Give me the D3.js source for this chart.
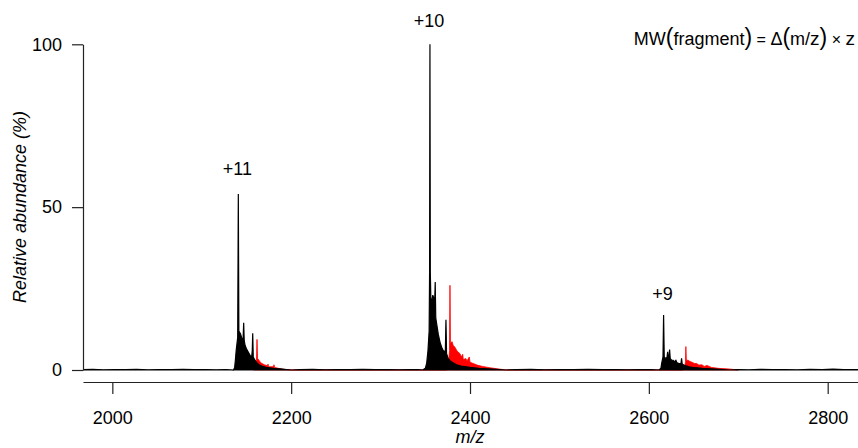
<!DOCTYPE html>
<html>
<head>
<meta charset="utf-8">
<script src="https://cdn.jsdelivr.net/npm/d3@7"></script>
<style>
  body { margin: 0; background: #fff; }
  text { font-family: "Liberation Sans", Arial, sans-serif; }
</style>
</head>
<body>
<div id="visualisation"></div>
<script>
// spectra as [m/z, relative abundance %]
var blackNoise = [[1967, 0.1], [1978, 0.2], [1990, 0.05], [2003, 0.15], [2015, 0.1], [2027, 0.2], [2040, 0.05], [2052, 0.15],
                  [2066, 0.1], [2079, 0.2], [2091, 0.1], [2104, 0.15], [2116, 0.05], [2127, 0.15],
                  [2210, 0.1], [2224, 0.2], [2238, 0.05], [2252, 0.15], [2266, 0.1], [2280, 0.2], [2294, 0.1], [2308, 0.15],
                  [2320, 0.05], [2333, 0.15], [2342, 0.1],
                  [2452, 0.1], [2468, 0.2], [2484, 0.05], [2500, 0.15], [2516, 0.1], [2532, 0.2], [2548, 0.1], [2562, 0.15],
                  [2576, 0.05], [2590, 0.15], [2602, 0.1],
                  [2700, 0.15], [2712, 0.05], [2724, 0.2], [2738, 0.1], [2752, 0.15], [2766, 0.05], [2780, 0.2], [2794, 0.1],
                  [2806, 0.25], [2818, 0.1], [2834, 0.15]];

var black11 = [[2135.5, 0], [2136.8, 0.8], [2137.6, 3], [2138.5, 6], [2140.2, 10], [2140.9, 54], [2141.5, 12],
               [2142.5, 11.5], [2143.5, 11], [2144.5, 10], [2145.6, 9], [2146.3, 10], [2146.9, 14.5], [2147.5, 9],
               [2148.5, 7.5], [2150, 6.5], [2152, 5.5], [2154, 4.5], [2155.8, 4], [2156.5, 6], [2157, 11.3],
               [2157.6, 4], [2159.5, 3], [2161.8, 2.2], [2164, 1.6], [2167, 1.2], [2172, 0.8], [2180, 0.5],
               [2190, 0.3], [2200, 0]];

var black10 = [[2347, 0], [2350, 0.5], [2351.5, 2], [2353, 6], [2354.3, 12], [2354.8, 30], [2355.2, 100],
               [2355.6, 30], [2356.2, 22], [2357.2, 21], [2358.4, 23], [2359.6, 22], [2360.4, 20], [2361.1, 27],
               [2361.7, 16], [2362.8, 14], [2364.5, 11], [2366.5, 8.5], [2368.3, 7], [2370, 6], [2372.4, 5.5],
               [2373.1, 15.4], [2373.8, 5], [2375.7, 3.5], [2378, 2.8], [2381, 2.2], [2385, 1.6], [2390, 1.2],
               [2400, 0.8], [2410, 0.5], [2425, 0.3], [2440, 0]];

var black9 = [[2611, 0], [2613.5, 0.5], [2614.3, 2], [2615.8, 4], [2616.5, 16.9], [2617.2, 4], [2618.5, 3.6],
              [2620.3, 3.8], [2621, 5.6], [2621.7, 3.5], [2622.5, 4], [2623.2, 6.3], [2623.9, 3.5], [2625.5, 3],
              [2627.2, 3], [2628.5, 2.5], [2630.2, 3], [2631.5, 2.2], [2634, 2], [2635.9, 2], [2636.6, 3.6],
              [2637.3, 1.8], [2640, 1.4], [2645, 1], [2652, 0.7], [2660, 0.5], [2675, 0.3], [2690, 0]];

var red11 = [[2158, 0], [2160, 1], [2161.2, 3], [2161.8, 9.4], [2162.4, 3.5], [2164, 3], [2166, 2.2], [2170, 1.6],
             [2173.5, 1.3], [2174.1, 1.8], [2174.7, 1], [2180.2, 1], [2180.8, 1.6], [2181.4, 0.8], [2186, 0.5],
             [2192, 0.2], [2200, 0]];

var red10 = [[2374, 0], [2376, 2], [2377.1, 6], [2377.6, 26], [2378.1, 8], [2379, 8.5], [2380, 8.7], [2381.2, 7.5],
             [2383.2, 7], [2385.5, 5.8], [2388.8, 5], [2390.5, 4], [2391.8, 4.8], [2392.5, 3.2], [2395.5, 3.5],
             [2396.5, 2.7], [2399.2, 4], [2400, 2.4], [2403.6, 2], [2408, 1.5], [2414, 1.1], [2422, 0.7],
             [2430, 0.4], [2440, 0]];

var red9 = [[2638, 0], [2640, 1], [2641, 2.5], [2641.4, 7.2], [2641.9, 3], [2644, 3], [2646, 2.6], [2648, 2.4],
            [2651, 2], [2653.4, 2], [2656, 1.5], [2659.3, 1.6], [2662, 1.1], [2665, 1.4], [2670, 0.8], [2678, 0.5],
            [2690, 0.3], [2700, 0]];

var xTicks = [2000, 2200, 2400, 2600, 2800];
var yTicks = [0, 50, 100];

// charge state labels [label, m/z of the apex]
var chargeLabels = [["+11", 2140.9], ["+10", 2355.2], ["+9", 2616.5]];

var svg = d3.select("#visualisation")
            .append("svg")
            .attr("width", 858)
            .attr("height", 448);

var x = d3.scaleLinear().domain([1967.2, 2833.9]).range([83, 858]);
var y = d3.scaleLinear().domain([0, 100]).range([370, 44.3]);

svg.append("clipPath").attr("id", "plotClip")
   .append("rect").attr("x", 83).attr("y", 0).attr("width", 775).attr("height", 372);

function bySort(a, b) { return a[0] - b[0]; }

var blackData = blackNoise.concat(black11, black10, black9).sort(bySort);
var redData = red11.concat(red10, red9).sort(bySort);

var area = d3.area()
             .x(function(d){ return x(d[0]); })
             .y0(y(0))
             .y1(function(d){ return y(d[1]); });

var spectra = svg.append("g").attr("clip-path", "url(#plotClip)");

spectra.append("path")
       .attr("d", area(redData))
       .attr("fill", "#ff0000")
       .attr("stroke", "#ff0000")
       .attr("stroke-width", 0.8);

spectra.append("path")
       .attr("d", area(blackData))
       .attr("fill", "#000")
       .attr("stroke", "#000")
       .attr("stroke-width", 1.2);

// axes
var xAxis = svg.append("g")
               .attr("transform", "translate(0,382)")
               .call(d3.axisBottom(x).tickValues(xTicks).tickFormat(d3.format("d"))
                       .tickSize(12).tickSizeOuter(0).tickPadding(17));

var yAxis = svg.append("g")
               .attr("transform", "translate(83,0)")
               .call(d3.axisLeft(y).tickValues(yTicks).tickFormat(d3.format("d"))
                       .tickSize(11).tickSizeOuter(0).tickPadding(10));

[xAxis, yAxis].forEach(function(g){
    g.selectAll("path, line").attr("stroke", "#222").attr("stroke-width", 1.2);
    g.selectAll("text").attr("font-size", 18).attr("fill", "#000")
     .attr("font-family", "Liberation Sans, Arial, sans-serif");
});

svg.append("text")
   .attr("x", 470).attr("y", 443)
   .attr("text-anchor", "middle")
   .attr("font-size", 18).attr("font-style", "italic")
   .text("m/z");

svg.append("text")
   .attr("transform", "translate(26,207) rotate(-90)")
   .attr("text-anchor", "middle")
   .attr("font-size", 18).attr("font-style", "italic")
   .text("Relative abundance (%)");

// charge states
var labelY = [175, 27.3, 299.5];
svg.selectAll(".charge")
   .data(chargeLabels)
   .enter()
     .append("text")
     .attr("class", "charge")
     .attr("x", function(d){ return x(d[1]) - 1; })
     .attr("y", function(d, i){ return labelY[i]; })
     .attr("text-anchor", "middle")
     .attr("font-size", 18)
     .text(function(d){ return d[0]; });

// formula
var formula = svg.append("text")
                 .attr("x", 855).attr("y", 45)
                 .attr("text-anchor", "end")
                 .attr("font-size", 18);
var parts = [["MW", 18], ["(", 23], ["fragment", 18], [")", 23], [" = ", 16], ["\u0394", 18], ["(", 23], ["m/", 18], ["z", 19], [")", 23], [" \u00d7 ", 16], ["z", 19]];
parts.forEach(function(p){
    formula.append("tspan").attr("font-size", p[1]).text(p[0]);
});
</script>
</body>
</html>
